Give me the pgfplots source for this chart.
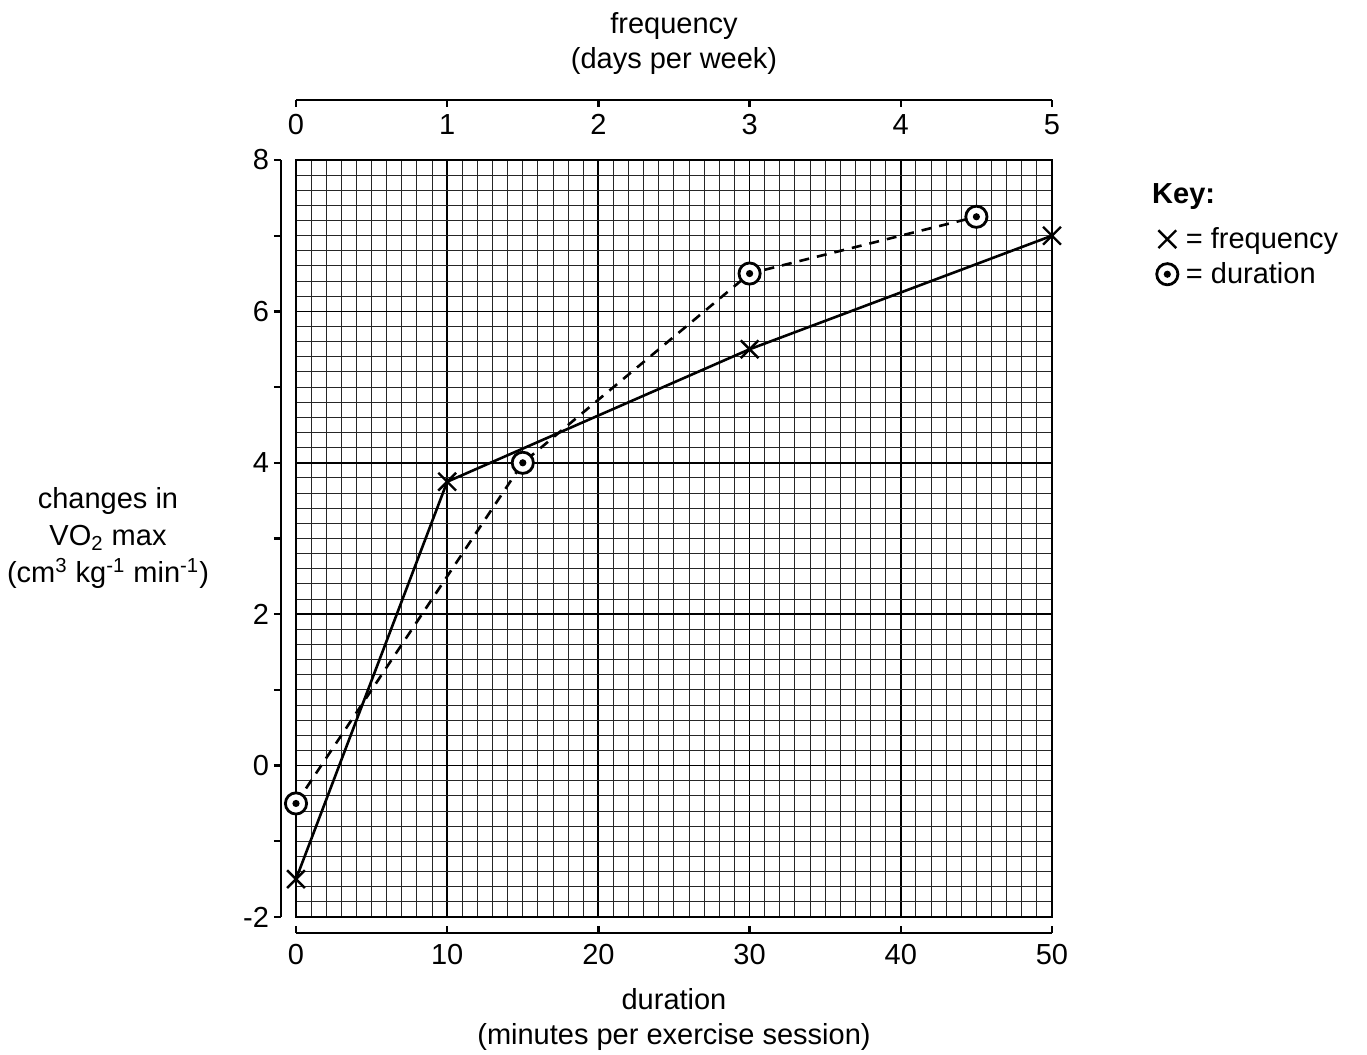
\documentclass[border=0pt]{standalone}
\usepackage{fontspec}
\setmainfont{Liberation Sans}
\usepackage{pgfplots}
\pgfplotsset{compat=1.18}

% circle with a dot in it
\pgfdeclareplotmark{circdot}{%
  \pgfpathcircle{\pgfpointorigin}{\pgfplotmarksize}%
  \pgfsetfillcolor{white}\pgfusepathqfillstroke
  \pgfpathcircle{\pgfpointorigin}{0.34\pgfplotmarksize}%
  \pgfsetfillcolor{black}\pgfusepathqfill}

\pgfplotsset{
  /pgf/number format/assume math mode=true,
  every axis/.append style={scale only axis, width=378pt,
    font=\fontsize{14.5}{17.5}\selectfont},
}

\begin{document}
\begin{tikzpicture}[font=\fontsize{14.5}{17.5}\selectfont]
\useasboundingbox (-148pt,-69pt) rectangle (535.5pt,458.5pt);

% graph paper + data
\begin{axis}[
    height=378.5pt,
    xmin=0, xmax=50, ymin=-2, ymax=8,
    xtick={0,10,...,50}, ytick={-2,0,...,8},
    minor x tick num=9, minor y tick num=9,
    grid=both,
    major grid style={black, line width=0.9pt},
    minor grid style={black!85, line width=0.5pt},
    axis line style={line width=0.9pt},
    major tick length=0pt, minor tick length=0pt,
    xticklabels={}, yticklabels={},
    clip=false,
    legend style={draw=none, fill=none, at={(rel axis cs:1.138,0.917)},
      anchor=north west, row sep=1.5pt, inner sep=0pt,
      nodes={inner xsep=4pt}},
    legend cell align=left,
    legend image code/.code={\draw[#1] plot coordinates {(0pt,0pt)};},
  ]
  \addplot[black, line width=1.3pt, mark=x, mark size=6.3pt,
    mark options={line width=1.2pt}]
    coordinates {(0,-1.5)(10,3.75)(30,5.5)(50,7)};
  \addlegendentry{= frequency}
  \addplot[black, line width=1.3pt, dash pattern=on 5pt off 4pt,
    mark=circdot, mark size=5.3pt, mark options={solid, line width=1.4pt}]
    coordinates {(0,-0.5)(15,4)(30,6.5)(45,7.25)};
  \addlegendentry{= duration}
  \node[anchor=base west, inner sep=0pt,
    font=\fontsize{14.5}{17.5}\selectfont\bfseries]
    at (rel axis cs:1.132,0.943) {Key:};
\end{axis}

% left axis
\begin{axis}[
    at={(-7.5pt,0pt)}, height=378.5pt,
    xmin=0, xmax=50, ymin=-2, ymax=8,
    axis x line=none, axis y line*=left,
    axis line style={-, line width=1.2pt},
    ytick={-2,-1,...,8}, yticklabels={-2,,0,,2,,4,,6,,8},
    tick align=outside, major tick length=3.5pt,
    tick style={black, line width=1.2pt},
    yticklabel style={xshift=1pt},
    ylabel={changes in\\VO\textsubscript{2} max\\(cm\textsuperscript{3} kg\textsuperscript{-1} min\textsuperscript{-1})},
    every axis y label/.style={at={(rel axis cs:0,0.5)}, anchor=center,
      xshift=-86.5pt, align=center, font=\fontsize{14.5}{18.5}\selectfont},
  ]
\end{axis}

% bottom axis
\begin{axis}[
    at={(0pt,-8pt)}, height=20pt,
    xmin=0, xmax=50, ymin=0, ymax=1,
    axis y line=none, axis x line*=bottom,
    axis line style={-, line width=1.2pt},
    xtick={0,10,...,50},
    tick align=inside, major tick length=3.5pt,
    tick style={black, line width=1.2pt},
    xticklabel style={yshift=-2pt},
    xlabel={duration\\(minutes per exercise session)},
    xlabel style={align=center, yshift=-5pt},
  ]
\end{axis}

% top axis
\begin{axis}[
    at={(0pt,408.5pt)}, height=20pt,
    xmin=0, xmax=5, ymin=0, ymax=1,
    axis y line=none, axis x line*=bottom,
    axis line style={-, line width=1.2pt},
    xtick={0,1,...,5},
    tick align=outside, major tick length=3.5pt,
    tick style={black, line width=1.2pt},
    xlabel={frequency\\(days per week)},
    every axis x label/.style={at={(rel axis cs:0.5,0)}, anchor=south,
      yshift=9pt, align=center},
  ]
\end{axis}
\end{tikzpicture}
\end{document}
